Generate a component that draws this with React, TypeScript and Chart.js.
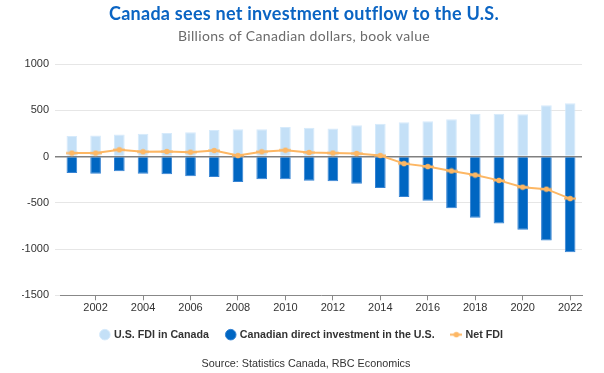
import React, { useEffect, useRef } from "react";
import { Chart, registerables } from "chart.js";

Chart.register(...registerables);

const years = [
  "2001", "2002", "2003", "2004", "2005", "2006", "2007", "2008", "2009", "2010", "2011",
  "2012", "2013", "2014", "2015", "2016", "2017", "2018", "2019", "2020", "2021", "2022",
];
const usFdiInCanada = [
  222, 228, 237, 246, 254, 261, 287, 294, 295, 320, 312, 304, 337, 355, 370, 380, 402, 461, 461,
  458, 554, 576,
];
const canadianDiInUs = [
  -178, -185, -159, -185, -192, -214, -221, -276, -246, -246, -261, -266, -295, -339, -437, -477,
  -558, -663, -725, -791, -908, -1035,
];
const netFdi = [
  37, 37, 73, 51, 54, 47, 65, 10, 51, 69, 44, 38, 33, 11, -77, -109, -156, -200, -258, -331, -353,
  -455,
];
const yTicks = [1000, 500, 0, -500, -1000, -1500];

const LIGHT = "#c4e0f7";
const DARK = "#0066c2";
const ORANGE = "#fdb764";

function makeLineIcon(): HTMLCanvasElement {
  const c = document.createElement("canvas");
  c.width = 12;
  c.height = 7;
  const g = c.getContext("2d")!;
  g.strokeStyle = ORANGE;
  g.lineWidth = 2;
  g.beginPath();
  g.moveTo(0, 3.5);
  g.lineTo(12, 3.5);
  g.stroke();
  g.fillStyle = ORANGE;
  g.beginPath();
  g.arc(6, 3.5, 2.8, 0, Math.PI * 2);
  g.fill();
  return c;
}

export default function App() {
  const ref = useRef<HTMLCanvasElement>(null);

  useEffect(() => {
    if (!ref.current) return;
    const lineIcon = makeLineIcon();
    const chart = new Chart(ref.current, {
      type: "bar",
      data: {
        labels: years,
        datasets: [
          {
            type: "bar",
            label: "U.S. FDI in Canada",
            data: usFdiInCanada,
            backgroundColor: LIGHT,
            borderColor: "#d6eafb",
            borderWidth: 1,
            grouped: false,
            categoryPercentage: 0.9,
            barPercentage: 0.5,
            pointStyle: "circle",
            order: 2,
          } as any,
          {
            type: "bar",
            label: "Canadian direct investment in the U.S.",
            data: canadianDiInUs,
            backgroundColor: DARK,
            borderColor: "#3683d3",
            borderWidth: 1,
            grouped: false,
            categoryPercentage: 0.9,
            barPercentage: 0.5,
            pointStyle: "circle",
            order: 1,
          } as any,
          {
            type: "line",
            label: "Net FDI",
            data: netFdi,
            borderColor: ORANGE,
            backgroundColor: ORANGE,
            borderWidth: 2,
            pointRadius: 3.5,
            pointBorderWidth: 0,
            pointBackgroundColor: ORANGE,
            pointStyle: lineIcon as any,
            tension: 0,
            order: 0,
          } as any,
        ],
      },
      options: {
        responsive: false,
        animation: false,
        layout: { padding: { top: 64, right: 22, bottom: 23, left: 22 } },
        scales: {
          x: {
            afterFit: (s: any) => {
              s.height = 16;
            },
            grid: {
              offset: false,
              drawOnChartArea: false,
              drawTicks: true,
              tickLength: 5,
              color: (ctx: any) => (ctx.index % 2 === 1 ? "#888888" : "rgba(0,0,0,0)"),
              tickColor: (ctx: any) => (ctx.index % 2 === 1 ? "#888888" : "rgba(0,0,0,0)"),
            },
            border: { display: true, color: "#888888", width: 1 },
            ticks: {
              autoSkip: false,
              maxRotation: 0,
              padding: 1,
              color: "#333333",
              font: { family: "'Liberation Sans', Arial, sans-serif", size: 11 },
              callback: (_v: any, i: number) => (i % 2 === 1 ? years[i] : ""),
            },
          },
          y: {
            min: -1500,
            max: 1000,
            afterFit: (s: any) => {
              s.width = 38;
            },
            afterBuildTicks: (s: any) => {
              s.ticks = yTicks.map((v) => ({ value: v }));
            },
            border: { display: false },
            grid: {
              drawTicks: true,
              tickLength: 5,
              color: (ctx: any) => (ctx.tick && ctx.tick.value === 0 ? "#808080" : "#e6e6e6"),
              lineWidth: (ctx: any) => (ctx.tick && ctx.tick.value === 0 ? 1.5 : 1),
            },
            ticks: {
              padding: 6,
              color: "#333333",
              font: { family: "'Liberation Sans', Arial, sans-serif", size: 11 },
              callback: (v: any) => String(v),
            },
          },
        },
        plugins: {
          legend: {
            position: "bottom",
            labels: {
              usePointStyle: true,
              boxWidth: 7.5,
              boxHeight: 7.5,
              padding: 18,
              color: "#333333",
              font: { family: "'Liberation Sans', Arial, sans-serif", size: 10.7, weight: "bold" },
              sort: (a: any, b: any) => a.datasetIndex - b.datasetIndex,
            },
          },
          tooltip: { enabled: false },
        },
      },
    });
    return () => chart.destroy();
  }, []);

  return (
    <div style={{ position: "fixed", left: 0, top: 0, width: 604, height: 373, background: "#fff" }}>
      <canvas ref={ref} width={604} height={373} style={{ position: "absolute", left: 0, top: 0 }} />
      <div
        style={{
          position: "absolute",
          left: 2,
          top: 1,
          width: 604,
          textAlign: "center",
          fontFamily: "Lato, 'Open Sans', sans-serif",
          fontWeight: 700,
          fontSize: 18,
          letterSpacing: "0.25px",
          lineHeight: "24px",
          color: "#0a64c3",
        }}
      >
        Canada sees net investment outflow to the U.S.
      </div>
      <div
        style={{
          position: "absolute",
          left: 2,
          top: 27,
          width: 604,
          textAlign: "center",
          fontFamily: "Lato, 'Open Sans', sans-serif",
          fontSize: 14,
          letterSpacing: "0.35px",
          lineHeight: "18px",
          color: "#6b6b6b",
        }}
      >
        Billions of Canadian dollars, book value
      </div>
      <div
        style={{
          position: "absolute",
          left: 4,
          top: 356,
          width: 604,
          textAlign: "center",
          fontFamily: "'Liberation Sans', Arial, sans-serif",
          fontSize: 10.8,
          lineHeight: "14px",
          color: "#333333",
        }}
      >
        Source: Statistics Canada, RBC Economics
      </div>
    </div>
  );
}
